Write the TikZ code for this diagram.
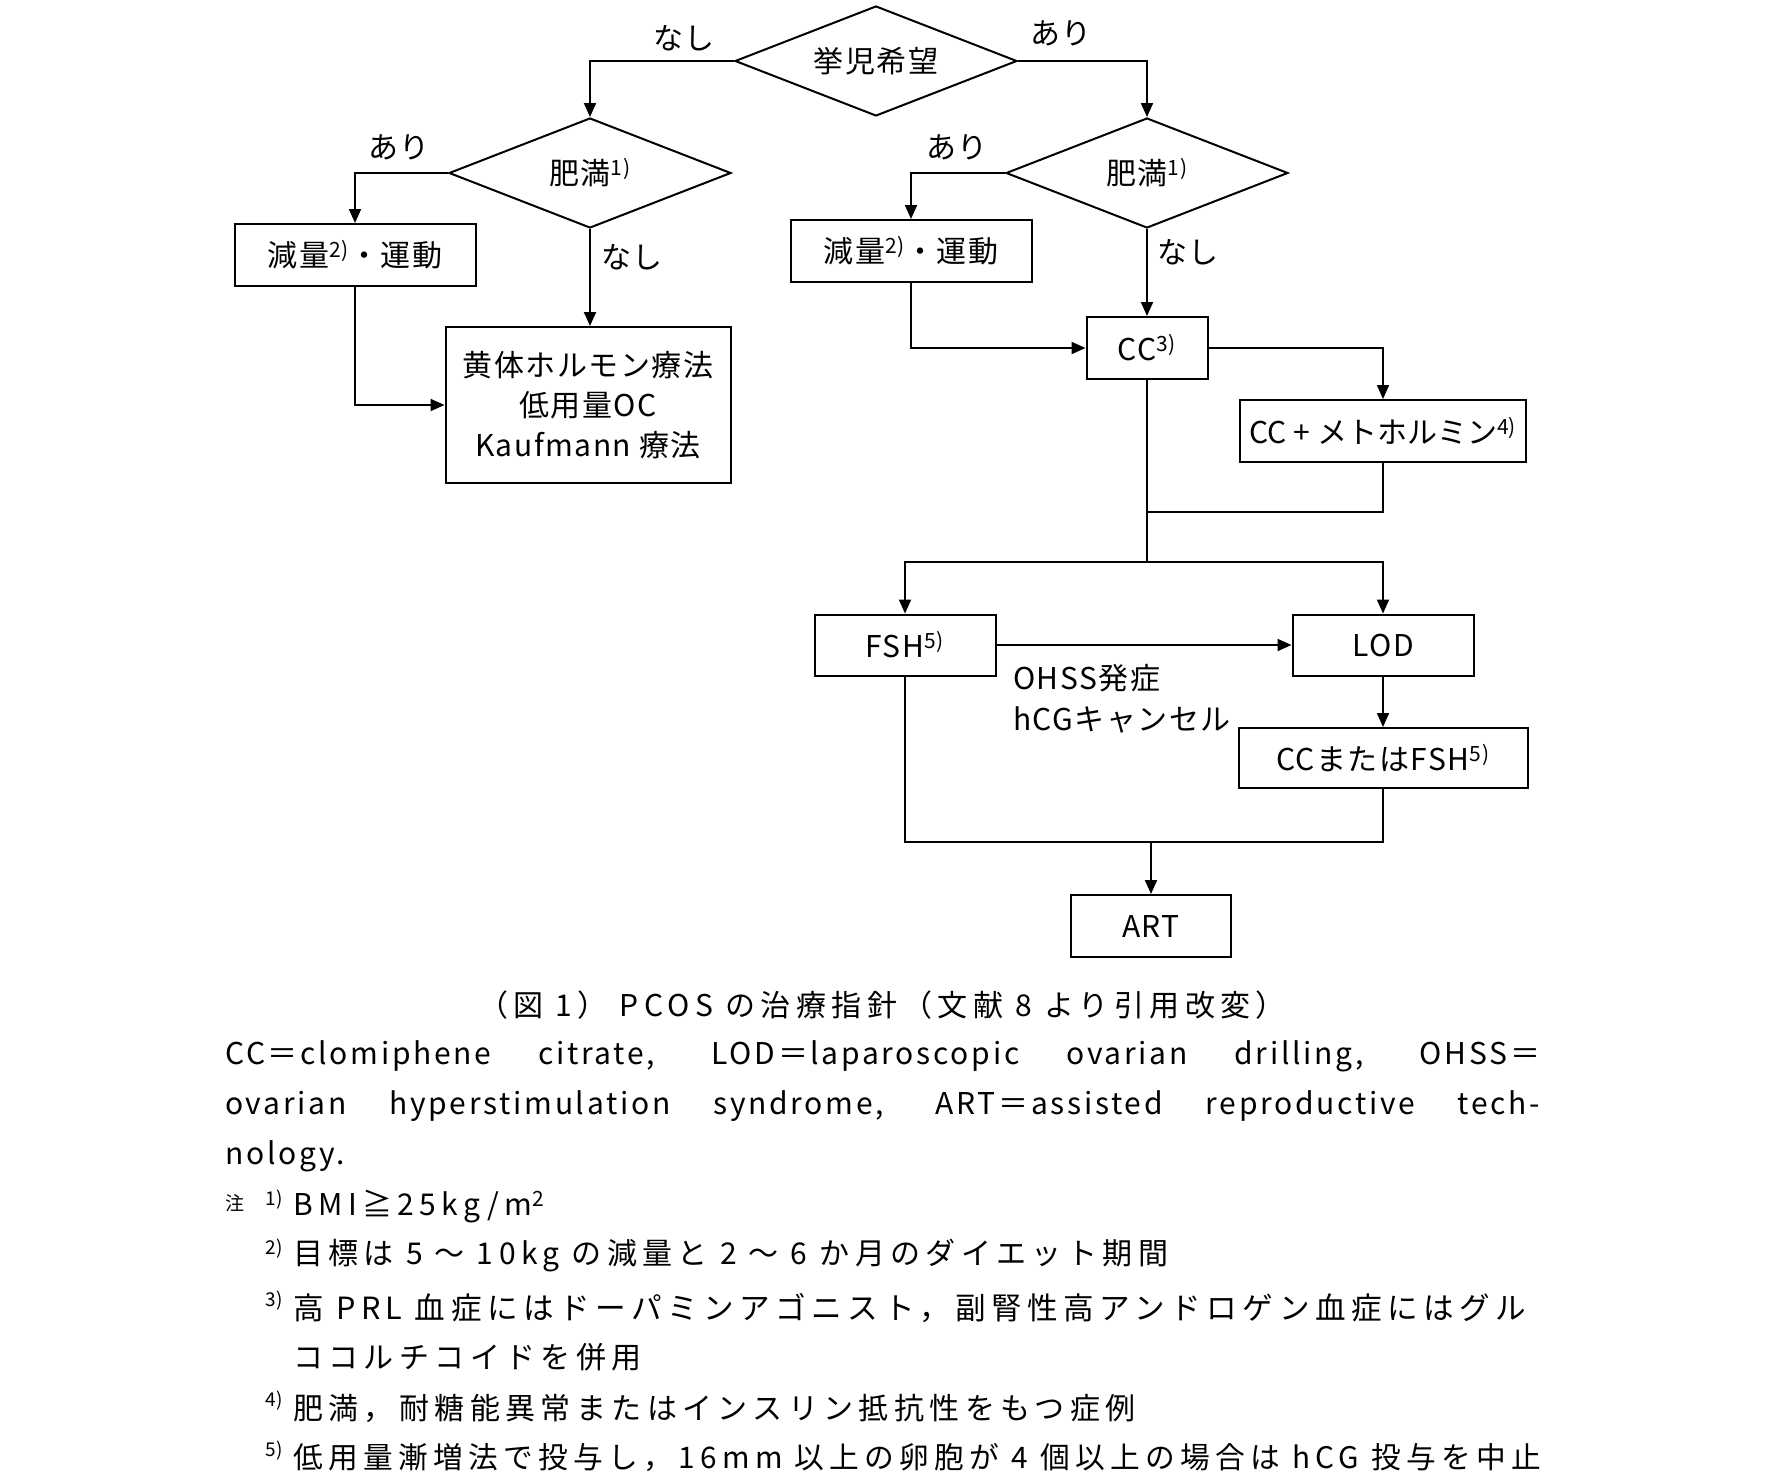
\documentclass[tikz,border=0pt]{standalone}
\usepackage{fontspec}
\setmainfont{Noto Sans CJK JP}
\newfontfamily\widefont[LetterSpace=18]{Noto Sans CJK JP}
\newfontfamily\parafont[LetterSpace=9]{Noto Sans CJK JP}
\newfontfamily\dgmfont[LetterSpace=5]{Noto Sans CJK JP}
\usetikzlibrary{shapes.geometric,arrows.meta}

\newcommand{\fnm}[1]{\textsuperscript{#1)}}
\newcommand{\txt}{\dgmfont\fontsize{30}{40}\selectfont}
\newcommand{\nttxt}{\widefont\fontsize{30}{40}\selectfont}
\newcommand{\smtxt}{\fontsize{19}{22}\selectfont}

\tikzset{
  box/.style={draw, line width=2pt, inner sep=0pt, minimum height=62pt, font=\txt},
  dia/.style={draw, diamond, line width=2pt, inner sep=0pt, aspect=2.56,
    minimum width=282pt, minimum height=110pt, font=\txt},
  lbl/.style={font=\txt, inner sep=0pt},
  note/.style={font=\nttxt, inner sep=0pt, anchor=west},
  conn/.style={line width=2pt},
  arr/.style={conn, -{Triangle[length=14pt,width=12pt]}}
}

\begin{document}
\begin{tikzpicture}[x=1pt,y=-1pt]
\useasboundingbox (0,0) rectangle (1765,1481);

% decisions
\node[dia] (wish) at (876,61) {挙児希望};
\node[dia] (obL) at (590,173) {肥満\fnm{1}};
\node[dia] (obR) at (1147,173) {肥満\fnm{1}};

% boxes
\node[box, minimum width=241pt] (lossL) at (355,255) {減量\fnm{2}・運動};
\node[box, minimum width=285pt, minimum height=156pt, align=center] (horm) at (588,405)
  {黄体ホルモン療法\\低用量OC\\Kaufmann 療法};
\node[box, minimum width=241pt] (lossR) at (911,251) {減量\fnm{2}・運動};
\node[box, minimum width=121pt] (cc) at (1147,348) {CC\fnm{3}};
\node[box, minimum width=286pt, font=\normalfont\fontsize{30}{40}\selectfont] (ccmet) at (1383,431)
  {CC + メトホルミン\fnm{4}};
\node[box, minimum width=181pt, minimum height=61pt] (fsh) at (905,645) {FSH\fnm{5}};
\node[box, minimum width=181pt, minimum height=61pt] (lod) at (1383,645) {LOD};
\node[box, minimum width=289pt, minimum height=60pt] (ccfsh) at (1383,758) {CCまたはFSH\fnm{5}};
\node[box, minimum width=160pt] (art) at (1151,926) {ART};

% branch labels
\node[lbl] (noW) at (684,38) {なし};
\node[lbl] (yesW) at (1061,33) {あり};
\node[lbl] (yesL) at (399,147) {あり};
\node[lbl] (noL) at (632,257) {なし};
\node[lbl] (yesR) at (957,147) {あり};
\node[lbl] (noR) at (1188,252) {なし};
\node[lbl, anchor=west] (ohss) at (1013,678) {OHSS発症};
\node[lbl, anchor=west] (hcg) at (1013,720) {hCGキャンセル};

% joints
\coordinate (mrg) at (1147,512);
\coordinate (spl) at (1147,562);
\coordinate (jn) at (1151,842);

% connectors
\draw[arr] (wish.west) -| (obL.north);
\draw[arr] (wish.east) -| (obR.north);
\draw[arr] (obL.west) -| (lossL.north);
\draw[arr] (obL.south) -- (obL.south |- horm.north);
\draw[arr] (lossL.south) |- (horm.west);
\draw[arr] (obR.west) -| (lossR.north);
\draw[arr] (obR.south) -- (cc.north);
\draw[arr] (lossR.south) |- (cc.west);
\draw[arr] (cc.east) -| (ccmet.north);
\draw[conn] (ccmet.south) |- (mrg);
\draw[conn] (cc.south) -- (spl);
\draw[arr] (spl) -| (fsh.north);
\draw[arr] (spl) -| (lod.north);
\draw[arr] (fsh.east) -- (lod.west);
\draw[arr] (lod.south) -- (ccfsh.north);
\draw[conn] (fsh.south) |- (jn) -| (ccfsh.south);
\draw[arr] (jn) -- (art.north);

% caption
\node[note, anchor=center] (cap) at (882,1005)
  {（図 1）\ PCOS の治療指針（文献 8 より引用改変）};
\node[note, font=\parafont\fontsize{30}{40}\selectfont] (abbr1) at (225,1056)
  {\makebox[1315pt][s]{CC＝clomiphene citrate, LOD＝laparoscopic ovarian drilling, OHSS＝}};
\node[note, font=\parafont\fontsize{30}{40}\selectfont] (abbr2) at (225,1106)
  {\makebox[1315pt][s]{ovarian hyperstimulation syndrome, ART＝assisted reproductive tech-}};
\node[note, font=\parafont\fontsize{30}{40}\selectfont] (abbr3) at (225,1156) {nology.};

% notes
\node[lbl, anchor=west, font=\smtxt] (chu) at (225,1203) {注};
\node[lbl, font=\smtxt] (n1) at (274,1200) {1)};
\node[lbl, font=\smtxt] (n2) at (274,1249) {2)};
\node[lbl, font=\smtxt] (n3) at (274,1301) {3)};
\node[lbl, font=\smtxt] (n4) at (274,1401) {4)};
\node[lbl, font=\smtxt] (n5) at (274,1451) {5)};
\node[note] (t1) at (293,1207) {BMI≧25kg/m\textsuperscript{2}};
\node[note] (t2) at (293,1256) {目標は 5 ～ 10kg の減量と 2 ～ 6 か月のダイエット期間};
\node[note, font=\widefont\fontsize{30.6}{40}\selectfont] (t3) at (293,1308)
  {高 PRL 血症にはドーパミンアゴニスト，副腎性高アンドロゲン血症にはグル};
\node[note] (t3b) at (293,1357) {ココルチコイドを併用};
\node[note] (t4) at (293,1408) {肥満，耐糖能異常またはインスリン抵抗性をもつ症例};
\node[note, font=\widefont\fontsize{29.7}{40}\selectfont] (t5) at (293,1458)
  {低用量漸増法で投与し，16mm 以上の卵胞が 4 個以上の場合は hCG 投与を中止};
\end{tikzpicture}
\end{document}
